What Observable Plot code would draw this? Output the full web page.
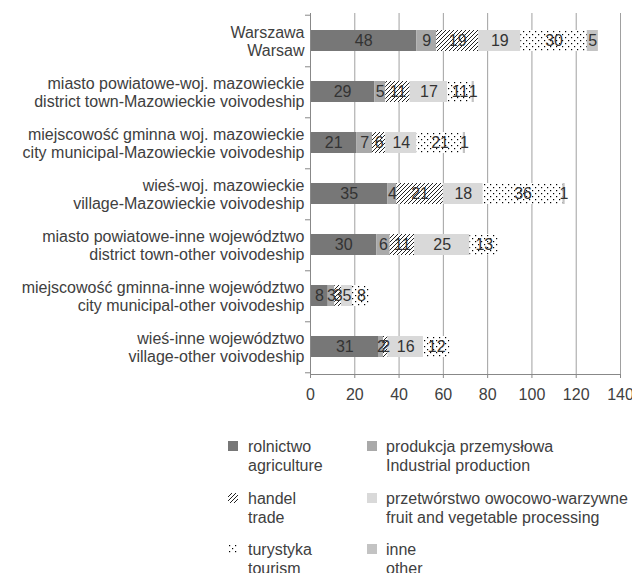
<!DOCTYPE html>
<html>
<head>
<meta charset="utf-8">
<script src="https://cdn.jsdelivr.net/npm/d3@7"></script>
<script src="https://cdn.jsdelivr.net/npm/@observablehq/plot@0.6"></script>
<style>
  html, body { margin: 0; padding: 0; background: #fff; }
  #wrap { position: relative; width: 632px; height: 573px; overflow: hidden; font-family: "Liberation Sans", Arial, sans-serif; color: #404040; }
  #chart { position: absolute; left: 0; top: 0; }
  .lg { position: absolute; font-size: 16px; line-height: 19px; color: #404040; white-space: nowrap; }
  .mk { position: absolute; width: 10px; height: 10px; }
</style>
</head>
<body>
<div id="wrap"><div id="chart"></div><div id="legend"></div></div>
<script>
const categories = [
  "Warszawa\nWarsaw",
  "miasto powiatowe-woj. mazowieckie\ndistrict town-Mazowieckie voivodeship",
  "miejscowość gminna woj. mazowieckie\ncity municipal-Mazowieckie voivodeship",
  "wieś-woj. mazowieckie\nvillage-Mazowieckie voivodeship",
  "miasto powiatowe-inne województwo\ndistrict town-other voivodeship",
  "miejscowość gminna-inne województwo\ncity municipal-other voivodeship",
  "wieś-inne województwo\nvillage-other voivodeship"
];
const seriesNames = [
  "rolnictwo\nagriculture",
  "produkcja przemysłowa\nIndustrial production",
  "handel\ntrade",
  "przetwórstwo owocowo-warzywne\nfruit and vegetable processing",
  "turystyka\ntourism",
  "inne\nother"
];
const agriculture = [48, 29, 21, 35, 30, 8, 31];
const industrial  = [9, 5, 7, 4, 6, 3, 2];
const trade       = [19, 11, 6, 21, 11, 3, 2];
const processing  = [19, 17, 14, 18, 25, 5, 16];
const tourism     = [30, 11, 21, 36, 13, 8, 12];
const other       = [5, 1, 1, 1, 0, 0, 0];
const xTicks = [0, 20, 40, 60, 80, 100, 120, 140];

const seriesValues = [agriculture, industrial, trade, processing, tourism, other];
const fills = ["#777777", "#a9a9a9", "url(#hatch)", "#d9d9d9", "url(#dots)", "#c3c3c3"];

const data = [];
categories.forEach((c, i) => {
  seriesNames.forEach((s, j) => {
    const v = seriesValues[j][i];
    if (v > 0) data.push({cat: c, series: s, value: v});
  });
});

const W = 632, H = 405, mt = 13, mb = 31, ml = 310, mr = 12;
const step = (H - mt - mb) / categories.length;

const chart = Plot.plot({
  width: W, height: H,
  marginLeft: ml, marginRight: mr, marginTop: mt, marginBottom: mb,
  style: {fontFamily: "'Liberation Sans', Arial, sans-serif", fontSize: "16px", color: "#404040", background: "#fff", overflow: "visible"},
  x: {domain: [0, 140]},
  y: {domain: categories, paddingInner: 0.59, paddingOuter: 0.295},
  color: {type: "ordinal", domain: seriesNames, range: fills},
  marks: [
    Plot.gridX(xTicks.slice(1), {stroke: "#a0a0a0", strokeOpacity: 1}),
    Plot.barX(data, Plot.stackX({x: "value", y: "cat", fill: "series", z: "series"})),
    Plot.textX(data, Plot.stackX({x: "value", y: "cat", z: "series", text: "value", fill: "#333", fontSize: 16})),
    Plot.ruleX([0], {stroke: "#888"}),
    Plot.frame({anchor: "bottom", stroke: "#888"}),
    Plot.axisX(xTicks, {tickSize: 4, tickPadding: 10, stroke: "#888", fill: "#404040", fontSize: 16, label: null}),
    Plot.axisY({tickSize: 5, tickFormat: () => "", dy: step / 2, stroke: "#888", label: null}),
    Plot.axisY([categories[0]], {tickSize: 5, tickFormat: () => "", dy: -step / 2, stroke: "#888", label: null}),
    Plot.text(categories, {y: d => d, frameAnchor: "left", textAnchor: "end", dx: -6, lineHeight: 1.15, fontSize: 16, fill: "#404040"})
  ]
});

// patterns
d3.select(chart).insert("defs", ":first-child").html(`
  <pattern id="hatch" patternUnits="userSpaceOnUse" width="4" height="4">
    <rect width="4" height="4" fill="#fff"/>
    <path d="M-1,1 l2,-2 M0,4 l4,-4 M3,5 l2,-2" stroke="#222" stroke-width="1"/>
  </pattern>
  <pattern id="dots" patternUnits="userSpaceOnUse" width="6" height="6">
    <rect width="6" height="6" fill="#fff"/>
    <rect x="1" y="1" width="1.2" height="1.2" fill="#000"/>
    <rect x="4" y="4" width="1.2" height="1.2" fill="#000"/>
  </pattern>
`);
document.getElementById("chart").appendChild(chart);

// legend
const legend = document.getElementById("legend");
const colLeft = [228, 367];
const textLeft = [248, 386];
const rowCenter = [446, 498, 549];
seriesNames.forEach((s, j) => {
  const col = j % 2, row = Math.floor(j / 2);
  const mk = document.createElementNS("http://www.w3.org/2000/svg", "svg");
  mk.setAttribute("class", "mk");
  mk.setAttribute("width", 10); mk.setAttribute("height", 10);
  mk.style.left = colLeft[col] + "px";
  mk.style.top = (rowCenter[row] - 5) + "px";
  mk.innerHTML = `<rect width="10" height="10" fill="${fills[j]}"/>`;
  legend.appendChild(mk);
  const t = document.createElement("div");
  t.className = "lg";
  t.style.left = textLeft[col] + "px";
  t.style.top = (rowCenter[row] - 9.5) + "px";
  t.innerHTML = s.split("\n").join("<br>");
  legend.appendChild(t);
});
</script>
</body>
</html>
